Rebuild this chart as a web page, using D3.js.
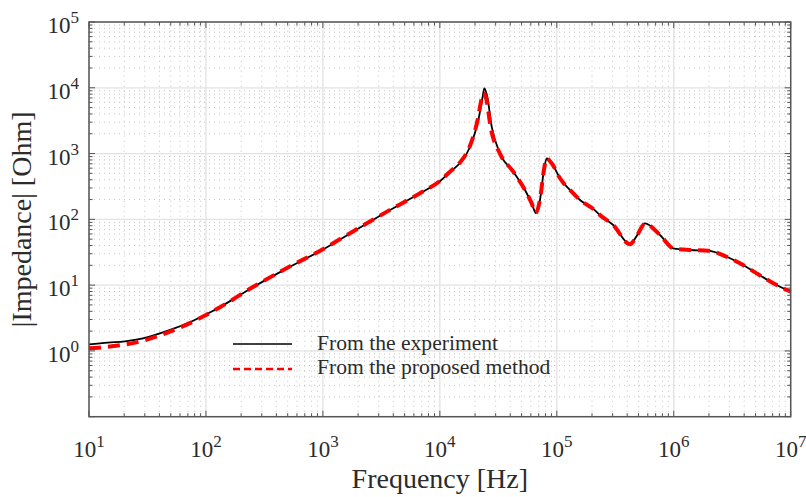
<!DOCTYPE html>
<html>
<head>
<meta charset="utf-8">
<script src="https://cdn.jsdelivr.net/npm/d3@7"></script>
<style>
  body { margin: 0; background: #fff; }
  text { font-family: "Liberation Serif", "Times New Roman", serif; fill: #2b2b2b; }
</style>
</head>
<body>
<div id="container"></div>
<script>
/* DATA */
// measured impedance
const expFreq = [10, 14.5, 20.3, 29, 47.4, 74.5, 100, 132, 252, 493, 982, 1807, 3530, 6761, 10000,
  12210, 14860, 18110, 21330, 23240, 23990, 25450, 27750, 32660, 42440, 53450, 61000, 66370,
  71810, 77650, 81950, 90400, 106500, 138300, 157800, 205000, 234000, 304000, 422500, 482000,
  567500, 762600, 990000, 1376000, 1974000, 2835000, 3684000, 5117000, 7100000, 10000000];
const expZ = [1.26, 1.34, 1.40, 1.55, 2.03, 2.78, 3.57, 4.65, 9.3, 18.0, 34.2, 64.9, 130.6, 249, 380,
  525, 718, 1259, 3236, 7310, 9820, 7310, 2560, 1009, 530, 279, 175, 124,
  197, 562, 847, 711, 421, 249, 197, 144, 116, 82, 41.8, 55.8,
  87.1, 57.8, 36.3, 34.2, 33.4, 27.0, 21.5, 15.1, 10.7, 7.94];

// proposed method
const modFreq = [10, 12, 19, 29, 47.4, 74.5, 100, 132, 252, 493, 982, 1807, 3530, 6761, 10000,
  12210, 14860, 18000, 21000, 22800, 23500, 24900, 27200, 32660, 42440, 53450, 61000, 66000,
  71810, 77650, 81500, 90400, 106500, 138300, 157800, 205000, 234000, 304000, 422500, 482000,
  567500, 762600, 990000, 1376000, 1974000, 2835000, 3684000, 5117000, 7100000, 10000000];
const modZ = [1.10, 1.12, 1.23, 1.43, 1.92, 2.69, 3.52, 4.62, 9.35, 18.2, 34.6, 65.5, 131, 250, 382,
  530, 730, 1280, 3200, 6900, 8240, 6900, 2500, 1000, 530, 279, 175, 126,
  200, 565, 845, 711, 421, 249, 197, 144, 116, 82, 41.8, 55.8,
  86, 57.8, 36.3, 34.2, 33.4, 27.0, 21.5, 15.1, 10.7, 7.94];

const xTickExp = [1, 2, 3, 4, 5, 6, 7];
const yTickExp = [0, 1, 2, 3, 4, 5];
const legendLabels = ["From the experiment", "From the proposed method"];

/* CONSTANTS */
const width = 806, height = 497;
const margin = { top: 22, right: 15.3, bottom: 80.3, left: 89 };

const svg = d3.select("#container")
  .append("svg")
  .attr("width", width)
  .attr("height", height);

const x = d3.scaleLog()
  .domain([10, 1e7])
  .range([margin.left, width - margin.right]);

const y = d3.scaleLog()
  .domain([0.1, 1e5])
  .range([height - margin.bottom, margin.top]);

const x0 = x.range()[0], x1 = x.range()[1];
const y0 = y.range()[0], y1 = y.range()[1];

/* GRID */
const minor = (lo, hi) => {
  const out = [];
  for (let e = lo; e < hi; e++) for (let k = 2; k <= 9; k++) out.push(k * Math.pow(10, e));
  return out;
};
const xMinor = minor(1, 7), yMinor = minor(-1, 5);
const xMajor = d3.range(1, 8).map(e => Math.pow(10, e));
const yMajor = d3.range(-1, 6).map(e => Math.pow(10, e));

const grid = svg.append("g");
grid.selectAll("line.xm").data(xMinor).join("line")
  .attr("x1", d => x(d)).attr("x2", d => x(d)).attr("y1", y0).attr("y2", y1)
  .attr("stroke", "#c4c4c4").attr("stroke-width", 1).attr("stroke-dasharray", "1,4");
grid.selectAll("line.ym").data(yMinor).join("line")
  .attr("y1", d => y(d)).attr("y2", d => y(d)).attr("x1", x0).attr("x2", x1)
  .attr("stroke", "#c4c4c4").attr("stroke-width", 1).attr("stroke-dasharray", "1,4");
grid.selectAll("line.xM").data(xMajor).join("line")
  .attr("x1", d => x(d)).attr("x2", d => x(d)).attr("y1", y0).attr("y2", y1)
  .attr("stroke", "#e2e2e2").attr("stroke-width", 1.3);
grid.selectAll("line.yM").data(yMajor).join("line")
  .attr("y1", d => y(d)).attr("y2", d => y(d)).attr("x1", x0).attr("x2", x1)
  .attr("stroke", "#e2e2e2").attr("stroke-width", 1.3);

/* CURVES */
const line = (fs, zs) => d3.line()
  .x(i => x(fs[i]))
  .y(i => y(zs[i]))
  .curve(d3.curveMonotoneX)(d3.range(fs.length));

svg.append("path")
  .attr("d", line(expFreq, expZ))
  .attr("fill", "none").attr("stroke", "#000").attr("stroke-width", 1.8);

svg.append("path")
  .attr("d", line(modFreq, modZ))
  .attr("fill", "none").attr("stroke", "#ff0000").attr("stroke-width", 4)
  .attr("stroke-dasharray", "12,7");

/* AXES BOX + TICKS (inside, all four sides) */
const axisColor = "#555";
const ticks = svg.append("g").attr("stroke", axisColor).attr("stroke-width", 1);
[[xMajor, 6], [xMinor, 3.5]].forEach(([vals, len]) => {
  ticks.selectAll(null).data(vals).join("line")
    .attr("x1", d => x(d)).attr("x2", d => x(d)).attr("y1", y0).attr("y2", y0 - len);
  ticks.selectAll(null).data(vals).join("line")
    .attr("x1", d => x(d)).attr("x2", d => x(d)).attr("y1", y1).attr("y2", y1 + len);
});
[[yMajor, 6], [yMinor, 3.5]].forEach(([vals, len]) => {
  ticks.selectAll(null).data(vals).join("line")
    .attr("y1", d => y(d)).attr("y2", d => y(d)).attr("x1", x0).attr("x2", x0 + len);
  ticks.selectAll(null).data(vals).join("line")
    .attr("y1", d => y(d)).attr("y2", d => y(d)).attr("x1", x1).attr("x2", x1 - len);
});
svg.append("rect")
  .attr("x", x0).attr("y", y1).attr("width", x1 - x0).attr("height", y0 - y1)
  .attr("fill", "none").attr("stroke", axisColor).attr("stroke-width", 1.5);

/* TICK LABELS */
const xl = svg.selectAll("text.xl").data(xTickExp).join("text")
  .attr("class", "xl")
  .attr("x", d => x(Math.pow(10, d)))
  .attr("y", y0 + 40)
  .attr("text-anchor", "middle")
  .style("font-size", "23px");
xl.append("tspan").text("10");
xl.append("tspan").attr("dy", -10).style("font-size", "17px").text(d => d);

const yl = svg.selectAll("text.yl").data(yTickExp).join("text")
  .attr("class", "yl")
  .attr("x", x0 - 10)
  .attr("y", d => y(Math.pow(10, d)) + 11)
  .attr("text-anchor", "end")
  .style("font-size", "23px");
yl.append("tspan").text("10");
yl.append("tspan").attr("dy", -10).style("font-size", "17px").text(d => d);

/* AXIS TITLES */
svg.append("text")
  .attr("x", (x0 + x1) / 2).attr("y", 488)
  .attr("text-anchor", "middle")
  .style("font-size", "28px")
  .text("Frequency [Hz]");

svg.append("text")
  .attr("transform", `translate(31, ${(y0 + y1) / 2}) rotate(-90)`)
  .attr("text-anchor", "middle")
  .style("font-size", "28px")
  .text("|Impedance| [Ohm]");

/* LEGEND */
const legend = svg.append("g");
legend.append("line")
  .attr("x1", 233).attr("x2", 292).attr("y1", 344).attr("y2", 344)
  .attr("stroke", "#000").attr("stroke-width", 1.5);
legend.append("line")
  .attr("x1", 233).attr("x2", 292).attr("y1", 369).attr("y2", 369)
  .attr("stroke", "#ff0000").attr("stroke-width", 2.5).attr("stroke-dasharray", "7,4");
legend.selectAll("text").data(legendLabels).join("text")
  .attr("x", 317)
  .attr("y", (d, i) => 350 + i * 24)
  .style("font-size", "21.6px")
  .text(d => d);
</script>
</body>
</html>
